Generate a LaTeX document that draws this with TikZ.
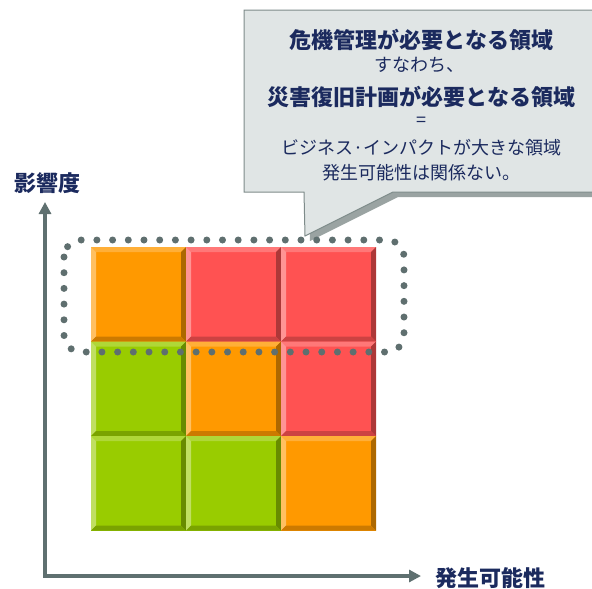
\documentclass[tikz,border=0pt]{standalone}
\usepackage{fontspec}
\newfontfamily\cjk{Noto Sans CJK JP}
\usetikzlibrary{arrows.meta}
\definecolor{navy}{HTML}{1B2A5E}
\definecolor{callfill}{HTML}{E0E5E5}
\definecolor{callline}{HTML}{7E8B8A}
\definecolor{callshadow}{HTML}{9AA3A2}
\definecolor{dotc}{HTML}{5F6F6F}
\definecolor{axisc}{HTML}{5F7070}
\definecolor{corange}{HTML}{FF9900}
\definecolor{cred}{HTML}{FF5252}
\definecolor{cgreen}{HTML}{99CC00}
\newcommand\bevcell[3]{%
  \begin{scope}[shift={(#1,#2)}]
    \fill[#3] (0,0) rectangle (95,94.5);
    \fill[#3!78!white] (0,0) -- (95,0) -- (90,5) -- (5,5) -- cycle;
    \fill[#3!62!white] (0,0) -- (5,5) -- (5,89.5) -- (0,94.5) -- cycle;
    \fill[#3!68!black] (95,0) -- (95,94.5) -- (90,89.5) -- (90,5) -- cycle;
    \fill[#3!80!black] (0,94.5) -- (95,94.5) -- (90,89.5) -- (5,89.5) -- cycle;
  \end{scope}}
\tikzset{
  boldline/.style={text=navy, font=\cjk\bfseries\fontsize{22}{26}\selectfont, inner sep=0pt},
  plainline/.style={text=navy, font=\cjk\fontsize{18}{22}\selectfont, inner sep=0pt},
  axislabel/.style={text=navy, font=\cjk\bfseries\fontsize{22}{26}\selectfont, inner sep=0pt},
  axisline/.style={draw=axisc, line width=3.5pt, {Triangle[length=12pt,width=12pt]}-{Triangle[length=12pt,width=12pt]}},
  dotframe/.style={draw=dotc, line width=7pt, line cap=round, dash pattern=on 0pt off 15.7pt, rounded corners=17pt}
}
\begin{document}
\begin{tikzpicture}[x=1pt,y=-1pt]
\useasboundingbox (0,0) rectangle (592,589);
% callout shadow and body
\fill[callshadow] (249,15) -- (605,15) -- (605,197) -- (398,197) -- (310,241) -- (309,197) -- cycle;
\filldraw[fill=callfill, draw=callline, line width=1pt] (244,10) -- (600,10) -- (600,192) -- (393,192) -- (305,236) -- (304,192) -- (244,192) -- cycle;
\coordinate (tip) at (305,236);
% callout text
\node[boldline] (t1) at (421.5,40) {危機管理が必要となる領域};
\node[plainline] (t2) at (419,65) {すなわち、};
\node[boldline] (t3) at (421.5,97) {災害復旧計画が必要となる領域};
\node[plainline] (t4) at (421.5,122) {=};
\node[plainline] (t5) at (421.5,148) {ビジネス·インパクトが大きな領域};
\node[plainline] (t6) at (421.5,173) {発生可能性は関係ない。};
% grid
\bevcell{91}{247}{corange}
\bevcell{186}{247}{cred}
\bevcell{281}{247}{cred}
\bevcell{91}{341.5}{cgreen}
\bevcell{186}{341.5}{corange}
\bevcell{281}{341.5}{cred}
\bevcell{91}{436}{cgreen}
\bevcell{186}{436}{cgreen}
\bevcell{281}{436}{corange}
% dotted frame
\draw[dotframe] (64,240) rectangle (404,352);
% axes
\coordinate (origin) at (45,576);
\coordinate (ytop) at (45,202);
\coordinate (xend) at (421,576);
\draw[axisline] (ytop) -- (origin) -- (xend);
\node[axislabel] (ylab) at (47,183) {影響度};
\node[axislabel] (xlab) at (490,578) {発生可能性};
\end{tikzpicture}
\end{document}
